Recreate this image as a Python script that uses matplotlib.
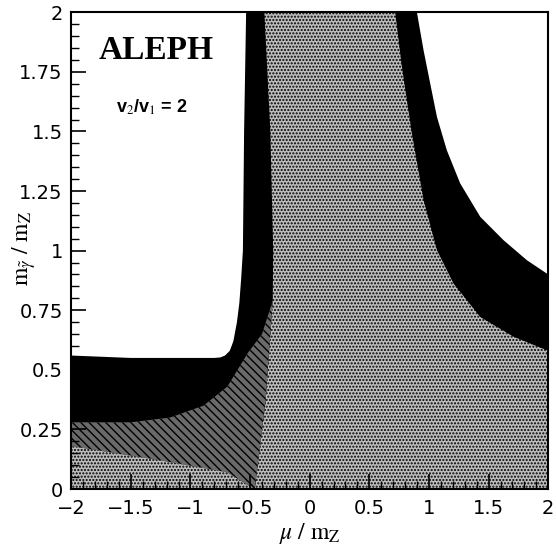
import matplotlib
matplotlib.use("Agg")
import matplotlib.pyplot as plt
from matplotlib.ticker import MultipleLocator

plt.rcParams['mathtext.fontset'] = 'stix'
plt.rcParams['hatch.linewidth'] = 1.0

# boundary of the light (excluded) region on the left side, top to bottom
stip_left_mu = [-0.38, -0.33, -0.306, -0.31, -0.37, -0.46]
stip_left_m = [2.0, 1.5, 1.0, 0.79, 0.37, 0.0]

# allowed (white) box in the upper left
white_l_mu = [-2.0, -1.5, -0.8, -0.75, -0.71, -0.67, -0.64, -0.61, -0.59, -0.575, -0.56, -0.55, -0.533]
white_l_m = [0.56, 0.55, 0.55, 0.552, 0.56, 0.58, 0.62, 0.70, 0.78, 0.88, 1.0, 1.5, 2.0]

# black band on the right: lower edge, top to bottom
black_r_mu = [0.717, 0.773, 0.857, 0.955, 1.067, 1.206, 1.43, 1.709, 2.0]
black_r_m = [2.0, 1.771, 1.491, 1.212, 1.002, 0.862, 0.722, 0.639, 0.58]

# allowed (white) region on the right: lower edge
white_r_mu = [0.899, 0.955, 1.011, 1.067, 1.15, 1.262, 1.43, 1.625, 1.821, 2.0]
white_r_m = [2.0, 1.84, 1.70, 1.561, 1.421, 1.282, 1.142, 1.044, 0.960, 0.90]

# darker hatched region, lower left
hatch_top_mu = [-2.0, -1.5, -1.17, -0.89, -0.69, -0.52, -0.40, -0.31]
hatch_top_m = [0.28, 0.28, 0.30, 0.35, 0.43, 0.57, 0.65, 0.79]
hatch_bot_mu = [-0.46, -0.5, -0.69, -1.25, -2.0]
hatch_bot_m = [0.0, 0.01, 0.07, 0.12, 0.18]

fig = plt.figure(figsize=(5.56, 5.57), dpi=100)
ax = fig.add_axes([0.128, 0.122, 0.858, 0.856])

stip = dict(facecolor='#bcbcbc', edgecolor='black', hatch='.....', linewidth=0)

# light stippled background
ax.fill([-2, 2, 2, -2], [0, 0, 2, 2], **stip)

# left black band
ax.fill([-2] + stip_left_mu + [-2], [2] + stip_left_m + [0], color='black', lw=0)
ax.fill(white_l_mu + [-2], white_l_m + [2], color='white', lw=0)

# dark hatched region and stipple below it
ax.fill(hatch_top_mu + stip_left_mu[-3:] + hatch_bot_mu,
        hatch_top_m + stip_left_m[-3:] + hatch_bot_m,
        facecolor='#6a6a6a', edgecolor='black', hatch='\\\\\\\\', linewidth=0)
ax.fill(hatch_bot_mu + [-2], hatch_bot_m + [0], **stip)

# right black band and white region
ax.fill(black_r_mu + [2], black_r_m + [2], color='black', lw=0)
ax.fill(white_r_mu + [2], white_r_m + [2], color='white', lw=0)

ax.set_xlim(-2, 2)
ax.set_ylim(0, 2)
ax.xaxis.set_major_locator(MultipleLocator(0.5))
ax.xaxis.set_minor_locator(MultipleLocator(0.1))
ax.yaxis.set_major_locator(MultipleLocator(0.25))
ax.yaxis.set_minor_locator(MultipleLocator(0.05))
ax.tick_params(which='both', direction='in', top=False, right=False, labelsize=14)
ax.tick_params(axis='x', pad=7)
ax.tick_params(axis='y', pad=6)
ax.tick_params(which='major', length=11, width=1.2)
ax.tick_params(which='minor', length=6, width=1)
ax.set_yticks([0, 0.25, 0.5, 0.75, 1, 1.25, 1.5, 1.75, 2])
ax.set_yticklabels(['0', '0.25', '0.5', '0.75', '1', '1.25', '1.5', '1.75', '2'])
ax.set_xticks([-2, -1.5, -1, -0.5, 0, 0.5, 1, 1.5, 2])
ax.set_xticklabels(['\u22122', '\u22121.5', '\u22121', '\u22120.5', '0', '0.5', '1', '1.5', '2'])
for s in ax.spines.values():
    s.set_linewidth(1.5)

ax.set_xlabel(r'$\mu\ /\ \mathrm{m_Z}$', fontsize=17, labelpad=2)
ax.text(-0.099, 0.505, r'$\mathrm{m}_{\tilde{\gamma}}\ /\ \mathrm{m_Z}$', fontsize=17,
        rotation=90, ha='center', va='center', transform=ax.transAxes)

ax.text(-1.29, 1.84, 'ALEPH', fontsize=24, fontweight='bold', family='Liberation Serif',
        ha='center', va='center')
ax.text(-1.32, 1.60, r'v$_2$/v$_1$ = 2', fontsize=13, fontweight='bold', family='Liberation Sans',
        ha='center', va='center')

fig.savefig('out.png', dpi=100)
